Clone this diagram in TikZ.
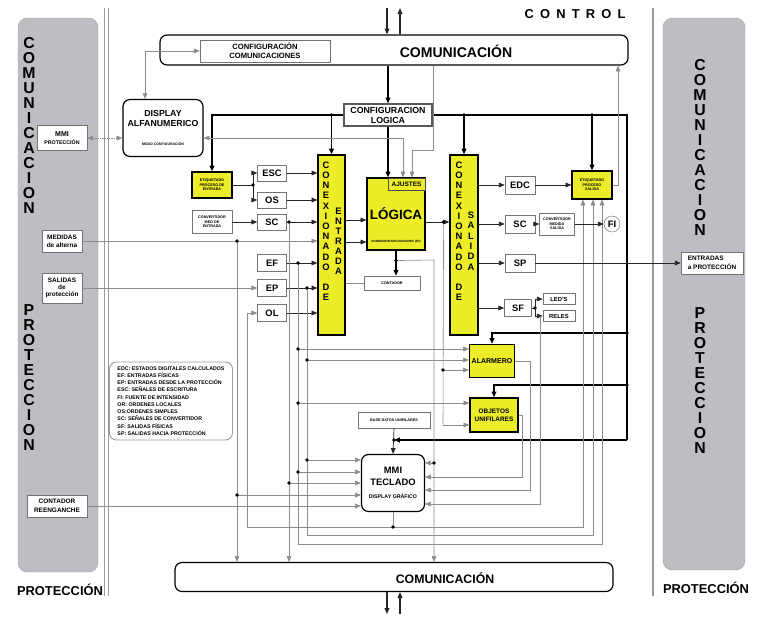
\documentclass[tikz,border=0pt]{standalone}
\usepackage{fontspec}
\setmainfont{Liberation Sans}
\usetikzlibrary{arrows.meta,positioning,calc}
\definecolor{amar}{RGB}{236,236,40}
\definecolor{panel}{RGB}{188,190,195}
\newcommand{\fbs}[2]{\fontsize{#1}{#2}\selectfont\bfseries}

\begin{document}
\begin{tikzpicture}[x=0.03cm,y=-0.03cm,
    >={Triangle[length=5pt,width=4pt]},
    sz/.style 2 args={minimum width=#1*0.03cm,minimum height=#2*0.03cm},
    caja/.style={rectangle,draw=black!55,fill=white,inner sep=0pt,font=\fbs{8}{9},align=center},
    amar/.style={caja,draw=black,line width=1pt,fill=amar},
    redo/.style={caja,draw=black,line width=1pt,rounded corners=6pt},
    mini/.style={font=\fbs{3.2}{3.8}},
    lado/.style={font=\fbs{13.5}{13.5}},
    letra/.style={font=\fbs{8}{8}},
    ln/.style={draw=black!85,line width=0.6pt},
    gl/.style={draw=black!45,line width=0.5pt},
    thk/.style={draw=black,line width=1.4pt},
]
\useasboundingbox (0,0) rectangle (765,616);
\fill[white] (0,0) rectangle (765,616);

% paneles laterales
\draw[black!35,fill=panel,rounded corners=8pt] (18,18) rectangle (98,572);
\draw[black!35,fill=panel,rounded corners=8pt] (663,18) rectangle (745,570);
\draw[black!40] (104,8) -- (104,596) (108,8) -- (108,596);
\draw[black!40,line width=1.2pt] (653,8) -- (653,596);
\foreach \l [count=\i from 0] in {C,O,M,U,N,I,C,A,C,I,O,N}{
  \node[lado] at (29,43+15*\i) {\l};
  \node[lado] at (700,65+15*\i) {\l};
}
\foreach \l [count=\i from 0] in {P,R,O,T,E,C,C,I,O,N}{
  \node[lado] at (29,310+15*\i) {\l};
  \node[lado] at (700,313+15*\i) {\l};
}
\node[font=\fbs{11}{11}] (protl) at (60,590) {PROTECCIÓN};
\node[font=\fbs{11}{11}] (protr) at (706,588) {PROTECCIÓN};
\node[font=\fbs{11}{11}\addfontfeatures{LetterSpace=48}] (ctrl) at (575,14) {CONTROL};

% comunicaciones
\node[redo] (topcom) at (394,50) [sz={468}{30}] {};
\node[font=\fbs{12}{12}] (topcomt) at (456,51) {COMUNICACIÓN};
\node[caja,font=\fbs{6.5}{7.5}] (cfgcom) at (265,51) [sz={130}{22}] {CONFIGURACIÓN\\COMUNICACIONES};
\node[redo] (botcom) at (394,577) [sz={438}{29}] {};
\node[font=\fbs{10.5}{10.5}] (botcomt) at (445,578) {COMUNICACIÓN};
\coordinate (ta1) at (387,8);
\coordinate (ta2) at (400,8);
\coordinate (ba1) at (387,614);
\coordinate (ba2) at (400,614);
\draw[ln,line width=1pt,->] (ta1) -- (ta1 |- topcom.north);
\draw[ln,line width=1pt,->] (ta2 |- topcom.north) -- (ta2);
\draw[ln,line width=1pt,->] (ba1 |- botcom.south) -- (ba1);
\draw[ln,line width=1pt,->] (ba2) -- (ba2 |- botcom.south);

% lado izquierdo
\node[redo,font=\fbs{7.5}{8.5}] (disp) at (163,128) [sz={80}{57}] {DISPLAY\\ALFANUMERICO\\[7pt]{\fbs{3}{3}MODO CONFIGURACIÓN}};
\node[caja,font=\fbs{6}{7}] (mmip) at (62,138) [sz={50}{25}] {MMI\\{\fbs{4.5}{5}PROTECCIÓN}};
\node[caja,font=\fbs{5.5}{6.5}] (medid) at (62,241) [sz={40}{22}] {MEDIDAS\\de alterna};
\node[caja,font=\fbs{5.5}{6}] (salprot) at (62,288) [sz={40}{30}] {SALIDAS\\de\\protección};
\node[caja,font=\fbs{5.5}{8}] (cntre) at (57,506) [sz={60}{22}] {CONTADOR\\REENGANCHE};
\node[caja,draw=black!40,line width=0.8pt,rounded corners=6pt,align=left,font=\fbs{4.5}{6.2}] (ley) at (171,401) [sz={123}{78}]
  {EDC: ESTADOS DIGITALES CALCULADOS\\EF: ENTRADAS FÍSICAS\\EP: ENTRADAS DESDE LA PROTECCIÓN\\ESC: SEÑALES DE ESCRITURA\\FI: FUENTE DE INTENSIDAD\\OR: ORDENES LOCALES\\OS:ORDENES SIMPLES\\SC: SEÑALES DE CONVERTIDOR\\SF: SALIDAS FÍSICAS\\SP: SALIDAS HACIA PROTECCIÓN};

% entradas
\node[caja,draw=black!65,line width=1pt,font=\fbs{7.5}{8.5}] (cfglog) at (388,115) [sz={88}{22}] {CONFIGURACION\\LOGICA};
\node[amar,mini] (etqe) at (212,185) [sz={40}{26}] {ETIQUETADO\\PROCESO DE\\ENTRADA};
\node[caja,mini] (cvme) at (212,222) [sz={40}{23}] {CONVERTIDOR\\MED DE\\ENTRADA};
\node[caja] (esc) at (272,173) [sz={29}{16}] {ESC};
\node[caja] (os) at (272,200) [sz={29}{16}] {OS};
\node[caja] (sce) at (272,222) [sz={29}{16}] {SC};
\node[caja] (ef) at (272,263) [sz={29}{17}] {EF};
\node[caja] (ep) at (272,288) [sz={29}{17}] {EP};
\node[caja] (ol) at (272,313) [sz={29}{17}] {OL};
\node[amar] (conE) at (331.5,245) [sz={27}{180}] {};
\node[amar] (conS) at (464,245) [sz={28}{180}] {};
\foreach \l [count=\i from 0] in {C,O,N,E,X,I,O,N,A,D,O}{
  \node[letra] at (326,165+10.2*\i) {\l};
  \node[letra] at (459,165+10.2*\i) {\l};
}
\foreach \l [count=\i from 0] in {D,E}{
  \node[letra] at (326,287+10.5*\i) {\l};
  \node[letra] at (459,287+10.5*\i) {\l};
}
\foreach \l [count=\i from 0] in {E,N,T,R,A,D,A}
  \node[letra] at (338.5,211+10*\i) {\l};
\foreach \l [count=\i from 0] in {S,A,L,I,D,A}
  \node[letra] at (471,215+10.4*\i) {\l};

% logica
\node[amar,font=\fbs{11.5}{11.5}] (logica) at (396,214) [sz={58}{72}] {LÓGICA};
\node[caja,draw=black!70,fill=amar,font=\fbs{5.5}{5.5}] (ajus) at (406.5,184) [sz={37}{12}] {AJUSTES};
\node[mini,font=\fbs{2.6}{3}] (ecu) at (396,242) {CONDICIONES/ECUACIONES (FP)};
\node[caja,mini] (contad) at (392,283) [sz={56}{14}] {CONTADOR};

% salidas
\node[caja] (edc) at (520,185) [sz={30}{18}] {EDC};
\node[amar,mini] (etqs) at (592,185) [sz={40}{28}] {ETIQUETADO\\PROCESO\\SALIDA};
\node[caja] (scs) at (520,224) [sz={30}{18}] {SC};
\node[caja,mini] (cvms) at (557,224) [sz={35}{22}] {CONVERTIDOR\\MEDIDA\\SALIDA};
\node[caja,circle,minimum size=16*0.03cm] (fi) at (612,224) {FI};
\node[caja] (sp) at (520,263) [sz={30}{18}] {SP};
\node[caja] (sf) at (518,308) [sz={27}{17}] {SF};
\node[caja,font=\fbs{5}{5}] (leds) at (559,299) [sz={32}{11}] {LED'S};
\node[caja,font=\fbs{5}{5}] (reles) at (559,316) [sz={32}{11}] {RELES};
\node[caja,align=left,font=\fbs{5.5}{7.5}] (entprot) at (712,263) [sz={62}{22}] {ENTRADAS\\a PROTECCIÓN};
\node[amar,font=\fbs{6}{6}] (alarm) at (492,361) [sz={45}{33}] {ALARMERO};
\node[amar,font=\fbs{5.5}{6.5}] (objun) at (494,415) [sz={48}{34}] {OBJETOS\\UNIFILARES};
\node[caja,mini] (bdat) at (394,420) [sz={72}{16}] {BASE DATOS UNIFILARES};
\node[redo,font=\fbs{8}{10}] (mmit) at (393,483) [sz={63}{57}] {MMI\\TECLADO\\[1pt]{\fbs{4.5}{5}DISPLAY GRÁFICO}};

% bus de configuracion
\draw[thk,->] (cfglog.north |- topcom.south) -- (cfglog.north);
\draw[thk,->] (cfglog.south) -- (cfglog.south |- logica.north);
\draw[thk,->] (cfglog.west) -| (etqe.north);
\coordinate (bE) at (conE.north |- cfglog.west);
\draw[thk,->] (bE) -- (conE.north);
\coordinate (bR) at (627,115);
\coordinate (bR2) at (627,440);
\draw[thk] (cfglog.east) -- (bR) -- (bR2);
\coordinate (bS) at (conS.north |- bR);
\coordinate (bT) at (etqs.north |- bR);
\draw[thk,->] (bS) -- (conS.north);
\draw[thk,->] (bT) -- (etqs.north);
\coordinate (bA) at (627,333);
\coordinate (bO) at (627,385);
\draw[thk,->] (bA) -| (alarm.north);
\draw[thk,->] (bO) -| (objun.north);
\coordinate (bD) at (bdat.south |- bR2);
\draw[thk,->] (bR2) -- (bD);
\draw[ln,->] (bdat.south) -- (mmit.north);

% display y comunicaciones
\draw[gl,<->] (cfgcom.west) -| ($(disp.north)+(-18,0)$);
\draw[gl,<->,densely dotted] (mmip.east) -- (mmip.east -| disp.west);
\draw[gl,<->] ($(disp.east)+(0,10)$) -| ($(logica.north)+(7,0)$);
\draw[gl,->] ($(topcom.south)+(39,0)$) -- ++(0,85) -| ($(logica.north)+(16,0)$);
\draw[gl,->] (etqs.east) -| ($(topcom.south)+(224,0)$);

% conexionado de entrada
\coordinate (j1) at (253,185);
\draw[ln] (etqe.east) -- (j1);
\draw[ln,->] (j1) |- (esc.west);
\draw[ln,->] (j1) |- (os.west);
\foreach \b in {esc,os,sce,ef,ep,ol}
  \draw[ln,->] (\b.east) -- (\b.east -| conE.west);
\draw[ln,->] (cvme.east) -- (sce.west);
\draw[gl,->] (medid.east) -- (medid.east -| conE.west);
\draw[gl,->] (salprot.east) -- (ep.west);
\draw[gl,->] (cntre.east) -- (cntre.east -| mmit.west);

\coordinate (vM) at (237,241);
\coordinate (vM2) at (237,495);
\draw[gl,->] (vM) -- (vM |- botcom.north);
\draw[gl,->] (vM2) -- (vM2 -| mmit.west);
\coordinate (vS) at (289,222);
\coordinate (vS2) at (289,483);
\draw[gl,->] (vS) -- (vS |- botcom.north);
\draw[gl,->] (vS2) -- (vS2 -| mmit.west);
\coordinate (vF) at (298,263);
\coordinate (vF1) at (298,349);
\coordinate (vF2) at (298,403);
\coordinate (vF3) at (298,472);
\coordinate (vF4) at (298,544);
\draw[gl,->] (vF) -- (vF4) -| ($(etqs.south)+(10,0)$);
\draw[gl,->] (vF1) -- (vF1 -| alarm.west);
\draw[gl,->] (vF2) -- (vF2 -| objun.west);
\draw[gl,->] (vF3) -- (vF3 -| mmit.west);
\coordinate (vP) at (307,288);
\coordinate (vP1) at (307,360);
\coordinate (vP2) at (307,460);
\coordinate (vP3) at (307,535);
\draw[gl,->] (vP) -- (vP3) -| ($(etqs.south)+(1,0)$);
\draw[gl,->] (vP1) -- (vP1 -| alarm.west);
\draw[gl,->] (vP2) -- (vP2 -| mmit.west);
\coordinate (vL) at (393,527);
\coordinate (vLa) at (247,527);
\draw[gl] (mmit.south) -- (vL);
\draw[gl,->] (vL) -- (vLa) |- (ol.west);
\draw[gl,->] (vL) -| ($(etqs.south)+(-9,0)$);

% logica
\coordinate (li1) at ($(logica.west)+(0,6)$);
\coordinate (li2) at ($(logica.west)+(0,28)$);
\draw[ln,->] (li1 -| conE.east) -- (li1);
\draw[ln,->] (li2 -| conE.east) -- (li2);
\coordinate (lo) at ($(logica.east)+(0,8)$);
\draw[ln,->] (lo) -- (lo -| conS.west);
\coordinate (vG) at ($(lo)+(18,0)$);
\coordinate (vG1) at (443,370);
\coordinate (vG2) at (443,425);
\draw[gl] (vG) -- (vG2);
\draw[gl,->] (vG1) -- (vG1 -| alarm.west);
\draw[gl,->] (vG2) -- (vG2 -| objun.west);
\draw[thk,line width=1pt,->] (logica.south) -- (logica.south |- contad.north);
\coordinate (vC) at ($(logica.south)+(0,10)$);
\coordinate (vC1) at (434,260);
\coordinate (vC2) at (434,463);
\draw[gl,->] (vC) -- (vC1) -- (vC1 |- botcom.north);
\draw[gl,->] (vC2) -- (vC2 -| mmit.east);
\draw[gl] (conE.east |- contad.west) -- (contad.west);

% conexionado de salida
\foreach \b in {edc,scs,sp,sf}
  \draw[ln,->] (\b.west -| conS.east) -- (\b.west);
\draw[ln,->] (edc.east) -- (edc.east -| etqs.west);
\draw[ln,->] (scs.east) -- (cvms.west);
\draw[ln,->] (cvms.east) -- (fi.west);
\draw[ln,->] (sp.east) -- (entprot.west);
\coordinate (j2) at (535,308);
\draw[ln] (sf.east) -- (j2);
\draw[ln,->] (j2) |- (leds.west);
\draw[ln,->] (j2) |- (reles.west);
\coordinate (ra) at (530,490);
\draw[gl,->] (alarm.east) -| (ra) -- (ra -| mmit.east);
\coordinate (ro) at (522,477);
\draw[gl,->] (objun.east) -| (ro) -- (ro -| mmit.east);
\coordinate (rr0) at (540,316);
\coordinate (rr) at (540,504);
\draw[gl,->] (rr0) -- (rr) -- (rr -| mmit.east);

\foreach \c in {bE,bS,bT,bA,bO,bD,j1,j2,vM,vM2,vS,vS2,vF,vF1,vF2,vF3,vP,vP1,vP2,vL,vG,vG1,vC,vC2}
  \fill (\c) circle (1.6pt);
\end{tikzpicture}
\end{document}
